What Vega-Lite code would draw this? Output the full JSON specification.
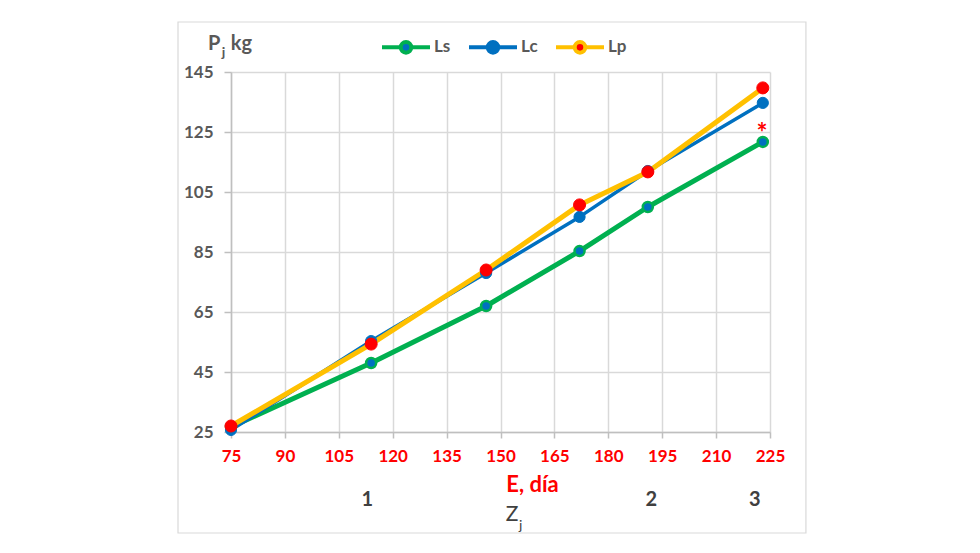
{
  "$schema": "https://vega.github.io/schema/vega-lite/v6.json",
  "width": 539,
  "height": 360,
  "autosize": {"type": "none"},
  "padding": {"left": 231, "top": 72, "right": 210, "bottom": 121},
  "background": "white",
  "config": {"view": {"stroke": null}, "font": "Lato"},
  "datasets": {
    "series": [
      {"s": "Ls", "e": 75, "p": 26.7},
      {"s": "Ls", "e": 114, "p": 48},
      {"s": "Ls", "e": 146, "p": 67},
      {"s": "Ls", "e": 172, "p": 85.3},
      {"s": "Ls", "e": 191, "p": 100},
      {"s": "Ls", "e": 223, "p": 121.7},
      {"s": "Lc", "e": 75, "p": 25.7},
      {"s": "Lc", "e": 114, "p": 55.3},
      {"s": "Lc", "e": 146, "p": 78},
      {"s": "Lc", "e": 172, "p": 96.7},
      {"s": "Lc", "e": 191, "p": 112},
      {"s": "Lc", "e": 223, "p": 134.7},
      {"s": "Lp", "e": 75, "p": 27},
      {"s": "Lp", "e": 114, "p": 54.3},
      {"s": "Lp", "e": 146, "p": 79},
      {"s": "Lp", "e": 172, "p": 100.7},
      {"s": "Lp", "e": 191, "p": 111.7},
      {"s": "Lp", "e": 223, "p": 139.7}
    ],
    "notes": [
      {"role": "zone", "t": "1", "e": 112.9, "p": 2.3},
      {"role": "zone", "t": "2", "e": 192, "p": 2.3},
      {"role": "zone", "t": "3", "e": 220.8, "p": 2.3},
      {"role": "zname", "t": "Z", "e": 153.2, "p": -2.5},
      {"role": "zsub", "t": "j", "e": 155.6, "p": -6.3},
      {"role": "yname", "t": "P", "e": 70.3, "p": 154.3},
      {"role": "ysub", "t": "j", "e": 72.9, "p": 151.5},
      {"role": "yname", "t": "kg", "e": 77.9, "p": 154.3},
      {"role": "star", "t": "*", "e": 222.8, "p": 124.3}
    ]
  },
  "layer": [
    {
      "data": {"name": "series"},
      "transform": [{"filter": "datum.s === 'Ls'"}],
      "mark": {"type": "line", "strokeWidth": 5, "strokeJoin": "round"},
      "encoding": {
        "x": {
          "field": "e", "type": "quantitative",
          "scale": {"domain": [75, 225], "nice": false, "zero": false},
          "axis": {
            "values": [75, 90, 105, 120, 135, 150, 165, 180, 195, 210, 225],
            "title": "E, día",
            "titleFont": "Lato", "titleFontSize": 22, "titleFontWeight": "bold", "titleColor": "#ff0000",
            "titleX": 301, "titleY": 52, "titleBaseline": "middle", "titleAlign": "center",
            "labelFont": "Lato", "labelFontSize": 17, "labelFontWeight": "bold", "labelColor": "#ff0000",
            "labelPadding": 10, "labelFlush": false,
            "domainColor": "#bfbfbf", "domainWidth": 1.5,
            "tickColor": "#bfbfbf", "tickSize": 6, "tickWidth": 1.5,
            "gridColor": "#d9d9d9", "gridWidth": 1.5
          }
        },
        "y": {
          "field": "p", "type": "quantitative",
          "scale": {"domain": [25, 145], "nice": false, "zero": false},
          "axis": {
            "values": [25, 45, 65, 85, 105, 125, 145],
            "title": null,
            "labelFont": "Lato", "labelFontSize": 17, "labelFontWeight": "bold", "labelColor": "#595959",
            "labelPadding": 11, "labelFlush": false,
            "domainColor": "#bfbfbf", "domainWidth": 1.5,
            "tickColor": "#bfbfbf", "tickSize": 7, "tickWidth": 1.5,
            "gridColor": "#d9d9d9", "gridWidth": 1.5
          }
        },
        "stroke": {
          "field": "s", "type": "nominal",
          "scale": {"domain": ["Ls", "Lc", "Lp"], "range": ["#00b050", "#0070c0", "#ffc000"]},
          "legend": {
            "title": null,
            "orient": "none",
            "legendX": 149,
            "legendY": -51,
            "direction": "horizontal",
            "padding": 0,
            "symbolType": "M-1,0H-0.22M0.22,0H1M-0.22,0A0.22,0.22,0,1,1,0.22,0A0.22,0.22,0,1,1,-0.22,0Z",
            "symbolSize": 2304,
            "symbolStrokeWidth": 4,
            "labelFont": "Lato", "labelFontSize": 17, "labelFontWeight": "bold", "labelColor": "#595959",
            "labelOffset": 2,
            "columnPadding": 10,
            "encode": {
              "symbols": {
                "update": {
                  "fill": {"signal": "datum.value === 'Lp' ? '#ff0000' : '#0070c0'"},
                  "fillOpacity": {"value": 1},
                  "opacity": {"value": 1},
                  "strokeWidth": {"value": 4}
                }
              }
            }
          }
        }
      }
    },
    {
      "data": {"name": "series"},
      "transform": [{"filter": "datum.s === 'Lc'"}],
      "mark": {"type": "line", "strokeWidth": 3.5, "strokeJoin": "round"},
      "encoding": {
        "x": {"field": "e", "type": "quantitative", "scale": {"domain": [75, 225], "nice": false, "zero": false}},
        "y": {"field": "p", "type": "quantitative", "scale": {"domain": [25, 145], "nice": false, "zero": false}},
        "stroke": {"field": "s", "type": "nominal", "scale": {"domain": ["Ls", "Lc", "Lp"], "range": ["#00b050", "#0070c0", "#ffc000"]}}
      }
    },
    {
      "data": {"name": "series"},
      "transform": [{"filter": "datum.s === 'Lp'"}],
      "mark": {"type": "line", "strokeWidth": 5, "strokeJoin": "round"},
      "encoding": {
        "x": {"field": "e", "type": "quantitative", "scale": {"domain": [75, 225], "nice": false, "zero": false}},
        "y": {"field": "p", "type": "quantitative", "scale": {"domain": [25, 145], "nice": false, "zero": false}},
        "stroke": {"field": "s", "type": "nominal", "scale": {"domain": ["Ls", "Lc", "Lp"], "range": ["#00b050", "#0070c0", "#ffc000"]}}
      }
    },
    {
      "data": {"name": "series"},
      "transform": [{"filter": "datum.s === 'Ls'"}],
      "mark": {"type": "circle", "fill": "#0070c0", "stroke": "#00b050", "strokeWidth": 2.5, "size": 100, "opacity": 1},
      "encoding": {
        "x": {"field": "e", "type": "quantitative", "scale": {"domain": [75, 225], "nice": false, "zero": false}},
        "y": {"field": "p", "type": "quantitative", "scale": {"domain": [25, 145], "nice": false, "zero": false}}
      }
    },
    {
      "data": {"name": "series"},
      "transform": [{"filter": "datum.s === 'Lc'"}],
      "mark": {"type": "circle", "fill": "#0070c0", "stroke": "#0070c0", "strokeWidth": 1, "size": 125, "opacity": 1},
      "encoding": {
        "x": {"field": "e", "type": "quantitative", "scale": {"domain": [75, 225], "nice": false, "zero": false}},
        "y": {"field": "p", "type": "quantitative", "scale": {"domain": [25, 145], "nice": false, "zero": false}}
      }
    },
    {
      "data": {"name": "series"},
      "transform": [{"filter": "datum.s === 'Lp'"}],
      "mark": {"type": "circle", "fill": "#ff0000", "stroke": "#ff0000", "strokeWidth": 1, "size": 145, "opacity": 1},
      "encoding": {
        "x": {"field": "e", "type": "quantitative", "scale": {"domain": [75, 225], "nice": false, "zero": false}},
        "y": {"field": "p", "type": "quantitative", "scale": {"domain": [25, 145], "nice": false, "zero": false}}
      }
    },
    {
      "data": {"name": "notes"},
      "transform": [{"filter": "datum.role === 'zone'"}],
      "mark": {"type": "text", "font": "Lato", "fontSize": 20, "fontWeight": "bold", "color": "#404040", "baseline": "middle", "align": "center"},
      "encoding": {
        "x": {"field": "e", "type": "quantitative", "scale": {"domain": [75, 225], "nice": false, "zero": false}},
        "y": {"field": "p", "type": "quantitative", "scale": {"domain": [25, 145], "nice": false, "zero": false}},
        "text": {"field": "t"}
      }
    },
    {
      "data": {"name": "notes"},
      "transform": [{"filter": "datum.role === 'zname'"}],
      "mark": {"type": "text", "font": "Lato", "fontSize": 21, "color": "#404040", "baseline": "middle", "align": "center"},
      "encoding": {
        "x": {"field": "e", "type": "quantitative", "scale": {"domain": [75, 225], "nice": false, "zero": false}},
        "y": {"field": "p", "type": "quantitative", "scale": {"domain": [25, 145], "nice": false, "zero": false}},
        "text": {"field": "t"}
      }
    },
    {
      "data": {"name": "notes"},
      "transform": [{"filter": "datum.role === 'zsub'"}],
      "mark": {"type": "text", "font": "Lato", "fontSize": 14, "color": "#404040", "baseline": "middle", "align": "center"},
      "encoding": {
        "x": {"field": "e", "type": "quantitative", "scale": {"domain": [75, 225], "nice": false, "zero": false}},
        "y": {"field": "p", "type": "quantitative", "scale": {"domain": [25, 145], "nice": false, "zero": false}},
        "text": {"field": "t"}
      }
    },
    {
      "data": {"name": "notes"},
      "transform": [{"filter": "datum.role === 'yname'"}],
      "mark": {"type": "text", "font": "Lato", "fontSize": 20, "fontWeight": "bold", "color": "#595959", "baseline": "middle", "align": "center"},
      "encoding": {
        "x": {"field": "e", "type": "quantitative", "scale": {"domain": [75, 225], "nice": false, "zero": false}},
        "y": {"field": "p", "type": "quantitative", "scale": {"domain": [25, 145], "nice": false, "zero": false}},
        "text": {"field": "t"}
      }
    },
    {
      "data": {"name": "notes"},
      "transform": [{"filter": "datum.role === 'ysub'"}],
      "mark": {"type": "text", "font": "Lato", "fontSize": 14, "fontWeight": "bold", "color": "#595959", "baseline": "middle", "align": "center"},
      "encoding": {
        "x": {"field": "e", "type": "quantitative", "scale": {"domain": [75, 225], "nice": false, "zero": false}},
        "y": {"field": "p", "type": "quantitative", "scale": {"domain": [25, 145], "nice": false, "zero": false}},
        "text": {"field": "t"}
      }
    },
    {
      "data": {"name": "notes"},
      "transform": [{"filter": "datum.role === 'star'"}],
      "mark": {"type": "text", "font": "Lato", "fontSize": 26, "fontWeight": "bold", "color": "#ff0000", "baseline": "middle", "align": "center"},
      "encoding": {
        "x": {"field": "e", "type": "quantitative", "scale": {"domain": [75, 225], "nice": false, "zero": false}},
        "y": {"field": "p", "type": "quantitative", "scale": {"domain": [25, 145], "nice": false, "zero": false}},
        "text": {"field": "t"}
      }
    },
    {
      "data": {"values": [{"frame": "border"}]},
      "mark": {"type": "rect", "fill": null, "fillOpacity": 0, "stroke": "#d9d9d9", "strokeWidth": 1.2},
      "encoding": {
        "x": {"datum": 60.25, "type": "quantitative", "scale": {"domain": [75, 225], "nice": false, "zero": false}},
        "x2": {"datum": 235},
        "y": {"datum": 161.67, "type": "quantitative", "scale": {"domain": [25, 145], "nice": false, "zero": false}},
        "y2": {"datum": -8.67}
      }
    }
  ]
}
